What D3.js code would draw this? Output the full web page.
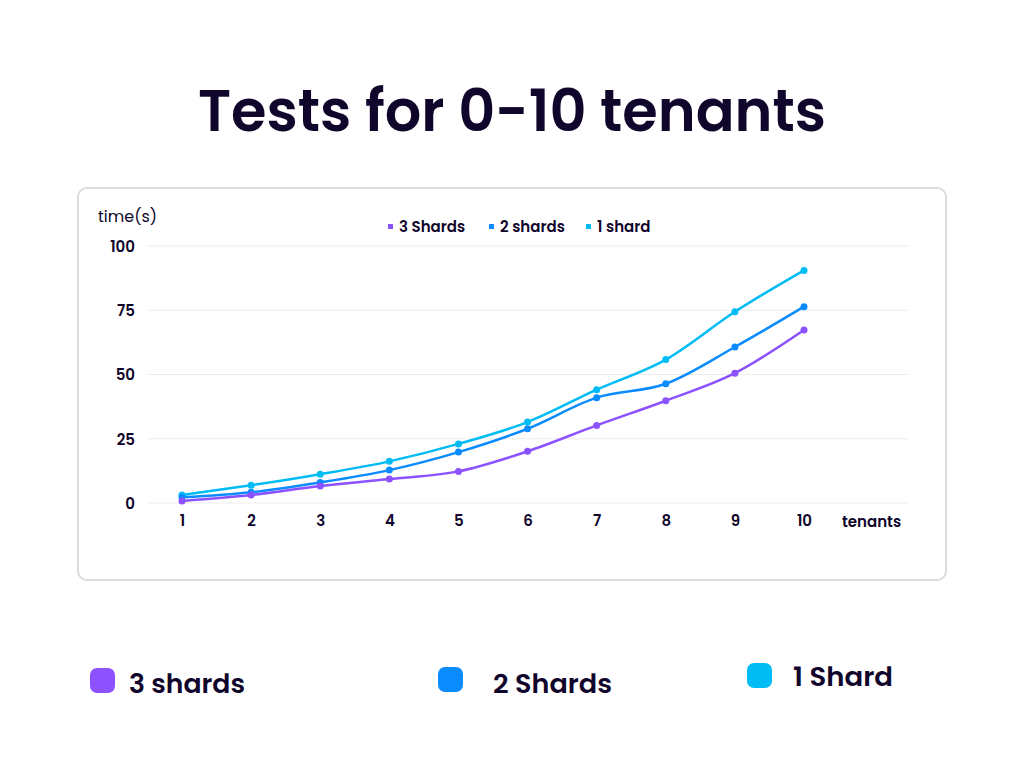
<!DOCTYPE html>
<html><head><meta charset="utf-8">
<script src="https://cdn.jsdelivr.net/npm/d3@7"></script>
<style>html,body{margin:0;padding:0;background:#fff;}svg{display:block;}</style>
</head><body>
<script>
const tenants = [1,2,3,4,5,6,7,8,9,10];
const threeShards = [0.8,3.1,6.6,9.3,12.3,20.1,30.2,39.8,50.5,67.3];
const twoShards = [2.2,4.2,8.0,12.8,19.8,28.9,41.0,46.4,60.7,76.4];
const oneShard = [3.1,6.9,11.2,16.2,23.0,31.5,44.1,55.8,74.4,90.5];
const yTicks = [0,25,50,75,100];
const seriesNames = ["3 Shards","2 shards","1 shard"];
const bottomNames = ["3 shards","2 Shards","1 Shard"];
const colors = ["#8c52ff","#0a8cff","#00bcf5"];
const ink = "#10052b";
const font = "Poppins, Montserrat, Inter, 'Noto Sans', sans-serif";

const W=1024,H=768;
const svg = d3.select("body").append("svg").attr("width",W).attr("height",H);

svg.append("text").attr("x",512).attr("y",131).attr("text-anchor","middle")
  .attr("font-family",font).attr("font-weight",600).attr("font-size",58)
  .attr("fill",ink).attr("textLength",628).attr("lengthAdjust","spacingAndGlyphs")
  .text("Tests for 0-10 tenants");

svg.append("rect").attr("x",78).attr("y",188).attr("width",868).attr("height",392)
  .attr("rx",9).attr("fill","#fff").attr("stroke","#dcdcdc").attr("stroke-width",2);

const x = d3.scaleLinear().domain([1,10]).range([182,804]);
const y = d3.scaleLinear().domain([0,100]).range([503,246]);

const g = svg.append("g");
g.selectAll("line.grid").data(yTicks).join("line")
  .attr("x1",148).attr("x2",908).attr("y1",d=>y(d)).attr("y2",d=>y(d))
  .attr("stroke","#ececec").attr("stroke-width",1);

const yAxis = d3.axisLeft(y).tickValues(yTicks).tickSize(0).tickPadding(0);
const ya = svg.append("g").attr("transform","translate(135,0)").call(yAxis);
ya.select(".domain").remove();
ya.selectAll("text").attr("font-family",font).attr("font-weight",600).attr("font-size",15).attr("fill",ink).attr("dy","0.35em");

const xAxis = d3.axisBottom(x).tickValues(tenants).tickFormat(d3.format("d")).tickSize(0).tickPadding(0);
const xa = svg.append("g").attr("transform","translate(0,515)").call(xAxis);
xa.select(".domain").remove();
xa.selectAll("text").attr("font-family",font).attr("font-weight",600).attr("font-size",15).attr("fill",ink).attr("dy","0.71em");

svg.append("text").attr("x",98).attr("y",222).attr("font-family",font).attr("font-size",16).attr("fill",ink).text("time(s)");
svg.append("text").attr("x",842).attr("y",527).attr("font-family",font).attr("font-weight",600).attr("font-size",15).attr("fill",ink).text("tenants");

const allSeries = [threeShards,twoShards,oneShard];
const line = d3.line().x((d,i)=>x(tenants[i])).y(d=>y(d)).curve(d3.curveMonotoneX);
[2,1,0].forEach(k=>{
  const s = allSeries[k];
  svg.append("path").attr("d",line(s)).attr("fill","none").attr("stroke",colors[k]).attr("stroke-width",2.5);
  svg.selectAll(null).data(s).join("circle").attr("cx",(d,i)=>x(tenants[i])).attr("cy",d=>y(d)).attr("r",3.5).attr("fill",colors[k]);
});

// inner legend
const legX = [388,489,586];
seriesNames.forEach((n,k)=>{
  svg.append("rect").attr("x",legX[k]).attr("y",224).attr("width",5).attr("height",5).attr("fill",colors[k]);
  svg.append("text").attr("x",legX[k]+11).attr("y",232).attr("font-family",font).attr("font-weight",600).attr("font-size",15).attr("fill",ink).text(n);
});

// bottom legend
const bl = [{sx:90,sy:668,tx:129,ty:693},{sx:438,sy:667,tx:493,ty:693},{sx:747,sy:663,tx:793,ty:686}];
const bw = [116,119,100];
bottomNames.forEach((n,k)=>{
  const p = bl[k];
  svg.append("rect").attr("x",p.sx).attr("y",p.sy).attr("width",25).attr("height",25).attr("rx",7).attr("fill",colors[k]);
  svg.append("text").attr("x",p.tx).attr("y",p.ty).attr("font-family",font).attr("font-weight",600).attr("font-size",26).attr("fill",ink)
    .attr("textLength",bw[k]).attr("lengthAdjust","spacingAndGlyphs").text(n);
});
</script>
</body></html>
